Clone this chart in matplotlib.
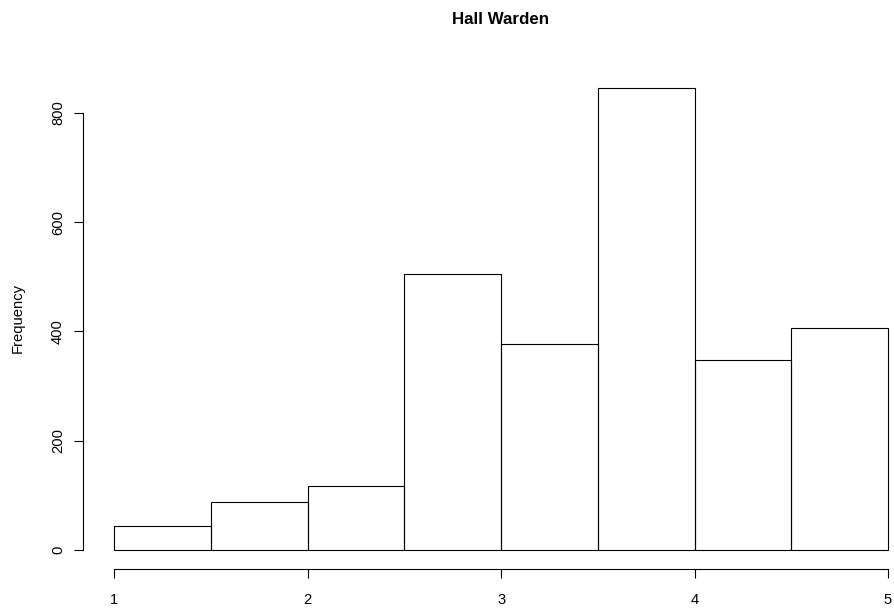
import matplotlib
matplotlib.use("Agg")
import matplotlib.pyplot as plt

# Data
bin_edges = [1.0, 1.5, 2.0, 2.5, 3.0, 3.5, 4.0, 4.5, 5.0]
counts = [44, 87, 117, 505, 376, 846, 347, 407]
x_ticks = [1, 2, 3, 4, 5]
y_ticks = [0, 200, 400, 600, 800]
title = "Hall Warden"
ylabel = "Frequency"

plt.rcParams['font.family'] = ['Liberation Sans', 'DejaVu Sans']

W, H = 894, 612
fig = plt.figure(figsize=(W / 100, H / 100), dpi=100)

# axes placement in pixels (R plot region)
left_px, right_px = 83.4, 918.9
bottom_px, top_px = 569.0, 68.0
ax = fig.add_axes([left_px / W, 1 - bottom_px / H,
                   (right_px - left_px) / W, (bottom_px - top_px) / H])

lefts = bin_edges[:-1]
widths = [b - a for a, b in zip(bin_edges[:-1], bin_edges[1:])]
ax.bar(lefts, counts, width=widths, align='edge', facecolor='none',
       edgecolor='black', linewidth=0.8)

ax.set_xlim(0.84, 5.16)
ax.set_ylim(-34.8, 881.8)

for s in ['top', 'right']:
    ax.spines[s].set_visible(False)
ax.spines['left'].set_bounds(y_ticks[0], y_ticks[-1])
ax.spines['bottom'].set_bounds(x_ticks[0], x_ticks[-1])
ax.spines['left'].set_linewidth(0.8)
ax.spines['bottom'].set_linewidth(0.8)

ax.set_xticks(x_ticks)
ax.set_xticklabels([str(v) for v in x_ticks])
ax.set_yticks(y_ticks)
ax.set_yticklabels([str(v) for v in y_ticks], rotation=90, va='center')
ax.tick_params(axis='both', length=6.8, width=0.8, labelsize=10.6, color='black')
ax.tick_params(axis='x', pad=10.5)
ax.tick_params(axis='y', pad=6.5)

fig.text(500 / W, 1 - 24 / H, title, ha='center', va='baseline',
         fontsize=12.2, fontweight='bold')
fig.text(17.5 / W, 1 - 318 / H, ylabel, ha='center', va='center',
         rotation=90, fontsize=10.6)

fig.savefig("out.png", dpi=100, facecolor='white')
